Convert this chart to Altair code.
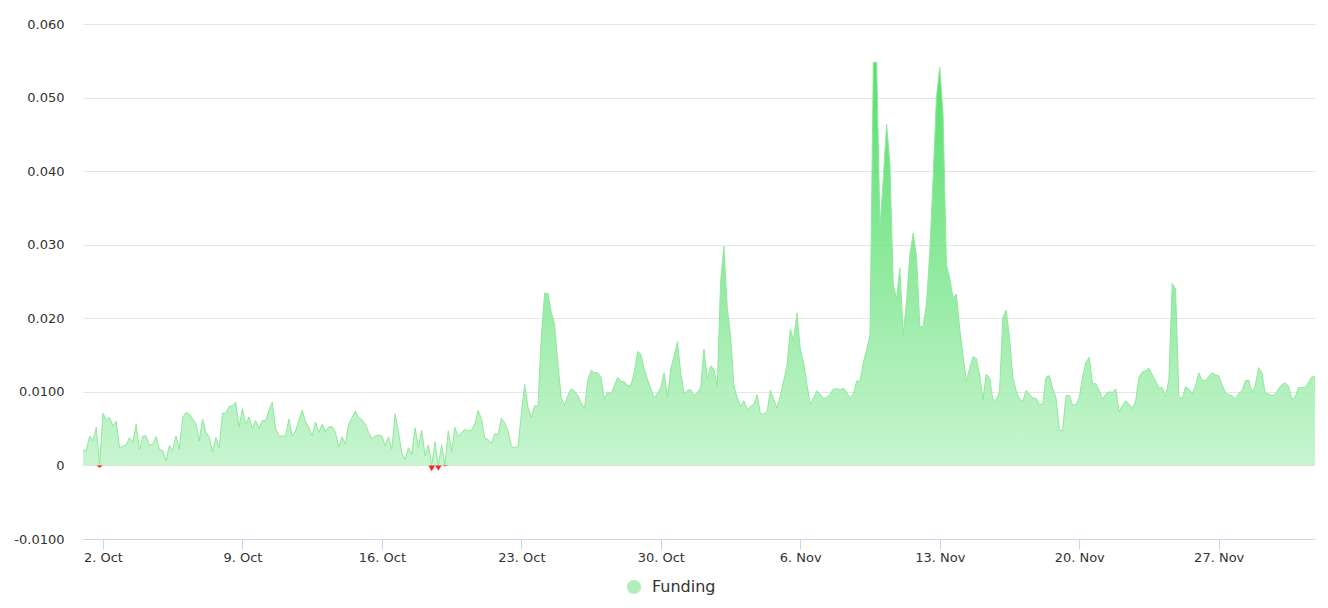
import json
import altair as alt
import pandas as pd

# ---- data: funding rate, one reading every 4 hours from 1 Oct 00:00 UTC ----
START = "2023-10-01T00:00:00Z"
STEP = "4h"

funding_oct01_oct07 = [
    0.0021, 0.0020, 0.0040, 0.0033, 0.0052, -0.0003, 0.0071, 0.0062, 0.0065, 0.0054,
    0.0060, 0.0024, 0.0026, 0.0028, 0.0038, 0.0031, 0.0056, 0.0021, 0.0040, 0.0040,
    0.0027, 0.0029, 0.0039, 0.0022, 0.0020, 0.0006, 0.0027, 0.0020, 0.0040, 0.0022,
    0.0065, 0.0072, 0.0070, 0.0063, 0.0057, 0.0033, 0.0063, 0.0045, 0.0039, 0.0018,
    0.0038, 0.0024, 0.0071, 0.0071, 0.0080, 0.0081, 0.0086,
]
funding_oct08_oct16 = [
    0.0052, 0.0077, 0.0056, 0.0066, 0.0050, 0.0061, 0.0050, 0.0061, 0.0061, 0.0075,
    0.0086, 0.0050, 0.0040, 0.0040, 0.0040, 0.0063, 0.0040, 0.0047, 0.0061, 0.0075,
    0.0059, 0.0052, 0.0040, 0.0059, 0.0045, 0.0056, 0.0046, 0.0052, 0.0053, 0.0045,
    0.0025, 0.0039, 0.0029, 0.0056, 0.0065, 0.0074, 0.0065, 0.0062, 0.0056, 0.0045,
    0.0036, 0.0040, 0.0041, 0.0040, 0.0027, 0.0039, 0.0022, 0.0070, 0.0045,
]
funding_oct17_oct24 = [
    0.0017, 0.0008, 0.0024, 0.0015, 0.0051, 0.0024, 0.0048, 0.0013, 0.0028, -0.0008,
    0.0032, -0.0007, 0.0028, -0.0001, 0.0047, 0.0019, 0.0052, 0.0039, 0.0045, 0.0049,
    0.0047, 0.0048, 0.0056, 0.0075, 0.0063, 0.0037, 0.0035, 0.0030, 0.0043, 0.0042,
    0.0064, 0.0058, 0.0047, 0.0026, 0.0024, 0.0026, 0.0070, 0.0110, 0.0079, 0.0065,
    0.0081, 0.0080, 0.0174, 0.0234, 0.0234, 0.0208, 0.0192, 0.0138, 0.0092,
]
funding_oct25_nov02 = [
    0.0082, 0.0095, 0.0104, 0.0101, 0.0095, 0.0085, 0.0077, 0.0115, 0.0129, 0.0126,
    0.0126, 0.0120, 0.0090, 0.0100, 0.0097, 0.0108, 0.0120, 0.0114, 0.0114, 0.0108,
    0.0109, 0.0126, 0.0155, 0.0151, 0.0131, 0.0117, 0.0104, 0.0092, 0.0098, 0.0106,
    0.0126, 0.0092, 0.0131, 0.0149, 0.0168, 0.0126, 0.0097, 0.0102, 0.0103, 0.0095,
    0.0099, 0.0106, 0.0158, 0.0118, 0.0135, 0.0131, 0.0108, 0.0249, 0.0298, 0.0215,
    0.0176,
]
funding_nov03_nov09 = [
    0.0108, 0.0092, 0.0080, 0.0088, 0.0076, 0.0080, 0.0083, 0.0096, 0.0070, 0.0070,
    0.0073, 0.0102, 0.0090, 0.0078, 0.0095, 0.0115, 0.0135, 0.0185, 0.0170, 0.0207,
    0.0158, 0.0140, 0.0110, 0.0083, 0.0092, 0.0101, 0.0097, 0.0091, 0.0092, 0.0097,
    0.0104, 0.0104, 0.0103, 0.0105, 0.0099, 0.0092, 0.0097, 0.0115, 0.0114, 0.0140,
    0.0158, 0.0177,
]
funding_nov10_nov15 = [
    0.0548, 0.0548, 0.0323, 0.0390, 0.0464, 0.0409, 0.0245, 0.0227, 0.0268, 0.0177,
    0.0223, 0.0286, 0.0316, 0.0284, 0.0189, 0.0189, 0.0220, 0.0290, 0.0390, 0.0500,
    0.0541, 0.0477, 0.0273, 0.0255, 0.0227, 0.0233, 0.0186, 0.0150, 0.0114, 0.0132,
    0.0148, 0.0145, 0.0123, 0.0089, 0.0124, 0.0119, 0.0089, 0.0089,
]
funding_nov16_nov23 = [
    0.0100, 0.0201, 0.0211, 0.0174, 0.0120, 0.0101, 0.0090, 0.0087, 0.0102, 0.0097,
    0.0092, 0.0091, 0.0083, 0.0083, 0.0120, 0.0122, 0.0105, 0.0092, 0.0048, 0.0047,
    0.0095, 0.0095, 0.0082, 0.0082, 0.0092, 0.0120, 0.0140, 0.0147, 0.0111, 0.0111,
    0.0102, 0.0090, 0.0097, 0.0100, 0.0099, 0.0104, 0.0073, 0.0081, 0.0088, 0.0083,
    0.0077, 0.0088, 0.0120, 0.0127, 0.0129, 0.0132, 0.0123, 0.0115, 0.0105,
]
funding_nov24_dec01 = [
    0.0106, 0.0093, 0.0117, 0.0247, 0.0240, 0.0095, 0.0090, 0.0107, 0.0104, 0.0097,
    0.0108, 0.0126, 0.0116, 0.0115, 0.0121, 0.0126, 0.0123, 0.0122, 0.0110, 0.0099,
    0.0096, 0.0095, 0.0090, 0.0098, 0.0101, 0.0115, 0.0116, 0.0099, 0.0108, 0.0133,
    0.0126, 0.0098, 0.0097, 0.0095, 0.0096, 0.0104, 0.0110, 0.0112, 0.0108, 0.0090,
    0.0093, 0.0106, 0.0106, 0.0106, 0.0112, 0.0120, 0.0121,
]

x_tick_dates = ["2023-10-02", "2023-10-09", "2023-10-16", "2023-10-23", "2023-10-30",
                "2023-11-06", "2023-11-13", "2023-11-20", "2023-11-27"]
y_ticks = [-0.01, 0.0, 0.01, 0.02, 0.03, 0.04, 0.05, 0.06]
y_tick_labels = ["-0.0100", "0", "0.0100", "0.020", "0.030", "0.040", "0.050", "0.060"]
series_name = "Funding"

values = (funding_oct01_oct07 + funding_oct08_oct16 + funding_oct17_oct24 +
          funding_oct25_nov02 + funding_nov03_nov09 + funding_nov10_nov15 +
          funding_nov16_nov23 + funding_nov24_dec01)
times = pd.date_range(START, periods=len(values), freq=STEP)
df = pd.DataFrame({"t": times.strftime("%Y-%m-%dT%H:%M:%SZ"), "v": values})

x_tick_ms = [int(pd.Timestamp(d, tz="UTC").timestamp() * 1000) for d in x_tick_dates]
y_label_expr = f"{json.dumps(y_tick_labels)}[indexof({json.dumps(y_ticks)}, datum.value)]"

FONT = "DejaVu Sans"
TEXT = "#333333"

x_enc = alt.X(
    "t:T",
    scale=alt.Scale(type="utc", nice=False),
    axis=alt.Axis(
        values=x_tick_ms,
        labelExpr="utcFormat(datum.value, '%-d. %b')",
        grid=False,
        domainColor="#ccd6eb",
        tickColor="#ccd6eb",
        tickSize=10,
        labelPadding=2,
        labelFontSize=13,
        labelColor=TEXT,
        labelFont=FONT,
        labelFlush=False,
        labelOverlap=False,
        title=None,
        zindex=1,
    ),
)
y_scale = alt.Scale(domain=[-0.01, 0.06], nice=False, zero=False)
y_axis = alt.Axis(
    values=y_ticks,
    labelExpr=y_label_expr,
    grid=True,
    gridColor="#e6e6e6",
    domain=False,
    ticks=False,
    tickSize=0,
    labelPadding=19,
    labelFontSize=13,
    labelColor=TEXT,
    labelFont=FONT,
    title=None,
)

base = alt.Chart(df).transform_calculate(
    pos="max(datum.v, 0)", neg="min(datum.v, 0)"
)

green_fill = alt.Gradient(
    gradient="linear",
    stops=[
        alt.GradientStop(color="#bef3c8", offset=0),
        alt.GradientStop(color="#37d950", offset=1),
    ],
    x1=1, x2=1, y1=1, y2=0,
)

positive = base.mark_area(
    color=green_fill,
    opacity=0.85,
    line=alt.OverlayMarkDef(color="#8fe89c", strokeWidth=1),
).encode(x=x_enc, y=alt.Y("pos:Q", scale=y_scale, axis=y_axis))

negative = base.mark_area(color="#ff2020").encode(
    x=x_enc, y=alt.Y("neg:Q", scale=y_scale, axis=y_axis)
)

legend_layer = base.transform_filter("datum.v > 1").mark_point(
    filled=True, shape="circle"
).encode(
    x=x_enc,
    y=alt.Y("v:Q", scale=y_scale, axis=y_axis),
    color=alt.Color(
        "series:N",
        scale=alt.Scale(domain=[series_name], range=["#8fe69c"]),
        legend=alt.Legend(
            orient="none",
            legendX=543,
            legendY=555,
            title=None,
            symbolType="circle",
            symbolSize=200,
            symbolStrokeWidth=0,
            labelFontSize=16,
            labelFont=FONT,
            labelColor=TEXT,
            labelOffset=10,
            padding=0,
        ),
    ),
).transform_calculate(series=f"'{series_name}'")

chart = alt.layer(positive, negative, legend_layer).properties(
    width=1232,
    height=515,
    padding={"left": 75, "top": 16, "right": 5, "bottom": 61},
    autosize=alt.AutoSizeParams(type="none"),
).configure(font=FONT).configure_view(strokeWidth=0)

chart.save("out.html", embed_options={"renderer": "svg", "actions": False})
